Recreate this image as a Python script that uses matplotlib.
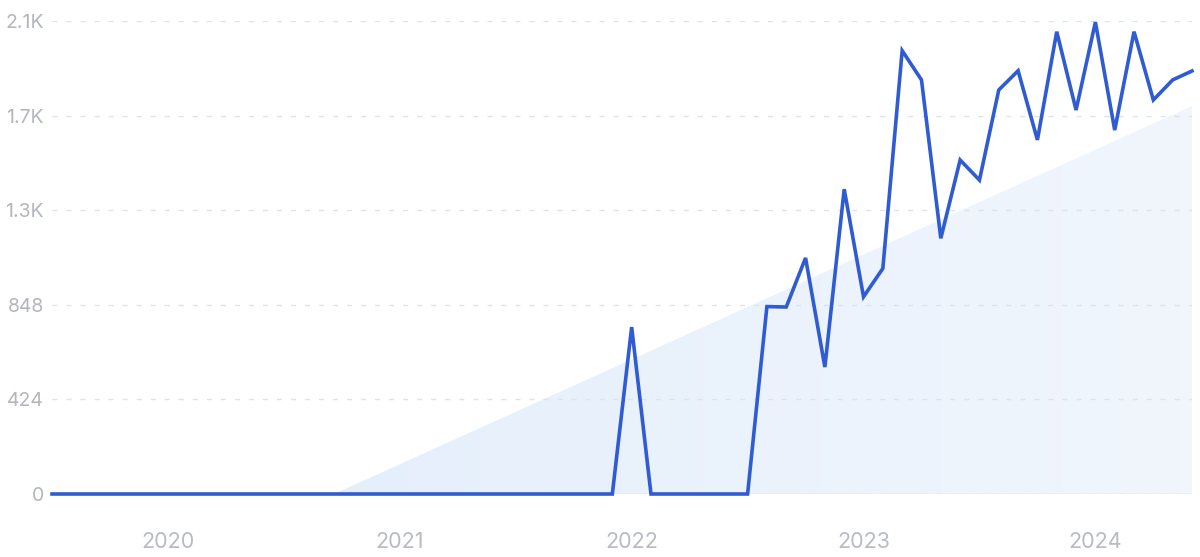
import numpy as np
import matplotlib.pyplot as plt
from matplotlib.patches import Polygon

plt.rcParams['font.family'] = ['Inter', 'DejaVu Sans']

# monthly values, Jul 2019 .. Jun 2024
zeros_early = [0] * 30  # Jul 2019 - Dec 2021
values_2022 = [748, 0, 0, 0, 0, 0, 0, 840, 838, 1058, 569, 1366]
values_2023 = [884, 1011, 1987, 1856, 1146, 1497, 1407, 1811, 1897, 1587, 2072, 1721]
values_2024 = [2115, 1631, 2072, 1766, 1856, 1896]
values = zeros_early + values_2022 + values_2023 + values_2024

# trend area (month index, value)
trend_x = [14.6, 59]
trend_y = [0, 1739]

year_labels = ['2020', '2021', '2022', '2023', '2024']
year_pos = [6, 18, 30, 42, 54]
y_ticks = [0, 424, 848, 1272, 1696, 2120]
y_labels = ['0', '424', '848', '1.3K', '1.7K', '2.1K']

fig = plt.figure(figsize=(12, 5.57), dpi=100)
ax = fig.add_axes([52 / 1200, 63 / 557, 1140 / 1200, 473 / 557])

x = np.arange(len(values))

# trend shading with a soft left-to-right fade
tri = Polygon([(trend_x[0], trend_y[0]), (trend_x[1], trend_y[1]), (trend_x[1], 0)],
              closed=True, facecolor='none', edgecolor='none')
ax.add_patch(tri)
grad = np.linspace(0, 1, 256).reshape(1, -1)
c0 = np.array([0.898, 0.937, 0.984])
c1 = np.array([0.945, 0.965, 0.992])
img = c0 + (c1 - c0) * grad[..., None]
im = ax.imshow(img, extent=[trend_x[0], trend_x[1], 0, trend_y[1]],
               aspect='auto', zorder=1, interpolation='bilinear')
im.set_clip_path(tri)

ax.plot(x, values, color='#2f5bd3', lw=2.6, solid_joinstyle='miter',
        zorder=3, clip_on=False)

ax.set_xlim(0, len(values) - 1)
ax.set_ylim(0, 2120)

ax.set_yticks(y_ticks)
ax.set_yticklabels(y_labels)
ax.set_xticks(year_pos)
ax.set_xticklabels(year_labels)

ax.grid(axis='y', color='#dbe3ee', lw=1, linestyle=(0, (3.6, 6.5)), zorder=0)
ax.axhline(0, color='#d6e1f0', lw=1, zorder=2)
ax.tick_params(axis='y', length=0, labelsize=14, labelcolor='#b3b6bd', pad=6)
ax.tick_params(axis='x', length=0, labelsize=15.5, labelcolor='#b8bbc2', pad=27)
for s in ax.spines.values():
    s.set_visible(False)

fig.savefig('out.png', dpi=100)
